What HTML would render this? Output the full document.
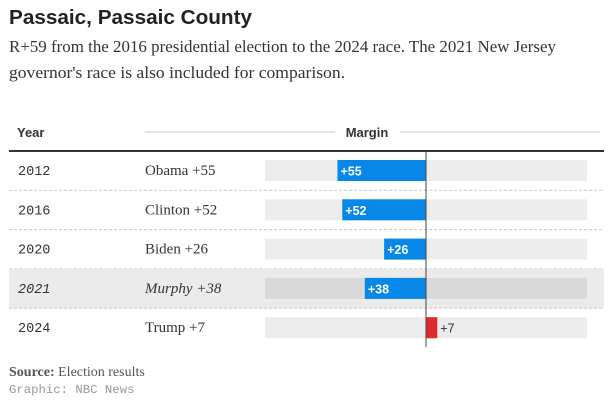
<!DOCTYPE html>
<html><head><meta charset="utf-8"><style>
body{margin:0;background:#fff;width:613px;height:409px;overflow:hidden}
svg{display:block}
</style></head><body>
<svg id="chart" width="613" height="409">
<text x="9" y="24" font-family="Liberation Sans, sans-serif" font-weight="bold" font-size="20" fill="#222" textLength="243" lengthAdjust="spacingAndGlyphs">Passaic, Passaic County</text>
<text x="9" y="52" font-family="Liberation Serif, serif" font-size="17" fill="#333" textLength="547" lengthAdjust="spacingAndGlyphs">R+59 from the 2016 presidential election to the 2024 race. The 2021 New Jersey</text>
<text x="9" y="78" font-family="Liberation Serif, serif" font-size="17" fill="#333" textLength="336" lengthAdjust="spacingAndGlyphs">governor's race is also included for comparison.</text>
<text x="17" y="137" font-family="Liberation Sans, sans-serif" font-weight="bold" font-size="13" fill="#333">Year</text>
<line x1="145" x2="335" y1="132" y2="132" stroke="#c8c8c8"/>
<line x1="400" x2="600" y1="132" y2="132" stroke="#c8c8c8"/>
<text x="367" y="137" text-anchor="middle" font-family="Liberation Sans, sans-serif" font-weight="bold" font-size="13" fill="#333">Margin</text>
<line x1="9" x2="604" y1="151" y2="151" stroke="#333" stroke-width="2"/>
<g id="rows"></g>
<text x="9" y="376" font-family="Liberation Serif, serif" font-size="14" fill="#555"><tspan font-weight="bold">Source:</tspan> Election results</text>
<text x="9" y="393" font-family="Liberation Mono, monospace" font-size="12.3" fill="#999">Graphic: NBC News</text>
</svg>
<script>
const years = ["2012","2016","2020","2021","2024"];
const candidates = ["Obama","Clinton","Biden","Murphy","Trump"];
const margins = [-55,-52,-26,-38,7];
const highlighted = [false,false,false,true,false];

const NS="http://www.w3.org/2000/svg";
const g=document.getElementById('rows');
const x0=265,x1=587;
const xs=v=>x0+(v+100)/200*(x1-x0);
const rowTop=i=>151+i*39.3;
function mk(t,a){const e=document.createElementNS(NS,t);for(const k in a)e.setAttribute(k,a[k]);g.appendChild(e);return e;}
years.forEach((y,i)=>{
  const top=rowTop(i),hl=highlighted[i];
  if(hl){const bg=mk('rect',{x:9,y:top,width:595,height:39.3,fill:'#ebebeb'});
    
    }
  if(i<years.length-1){const s=mk('line',{x1:9,x2:604,y1:top+39.3,y2:top+39.3,stroke:'#c8c8c8','stroke-dasharray':'3,2'});
    
    }
  const yt=mk('text',{x:18,y:top+24,'font-family':'Liberation Mono, monospace','font-size':13.5,fill:'#333','font-style':hl?'italic':'normal'});
  yt.textContent=y;
  
  
  const v=margins[i],lbl='+'+Math.abs(v);
  const ct=mk('text',{x:145,y:top+24,'font-family':'Liberation Serif, serif','font-size':15,fill:'#333','font-style':hl?'italic':'normal'});
  ct.textContent=candidates[i]+' '+lbl;
  
  
  const tr=mk('rect',{x:x0,y:top+9,width:x1-x0,height:21,fill:hl?'#d9d9d9':'#ececec'});
  
  
  const bx=Math.min(xs(0),xs(v)),bw=Math.abs(xs(v)-xs(0));
  const b=mk('rect',{x:bx,y:top+9,width:bw,height:21,fill:v<0?'#0788e8':'#dd2a2a'});
  
  
  let vt;
  if(v<0){vt=mk('text',{x:bx+3,y:top+24.5,'font-family':'Liberation Sans, sans-serif','font-size':12.5,fill:'#fff','font-weight':'bold'});}
  else{vt=mk('text',{x:bx+bw+3,y:top+24.5,'font-family':'Liberation Sans, sans-serif','font-size':12.5,fill:'#333'});}
  vt.textContent=lbl;
  
  
});
const zl=mk('line',{x1:xs(0),x2:xs(0),y1:151,y2:347,stroke:'#444'});


</script>
</body></html>
